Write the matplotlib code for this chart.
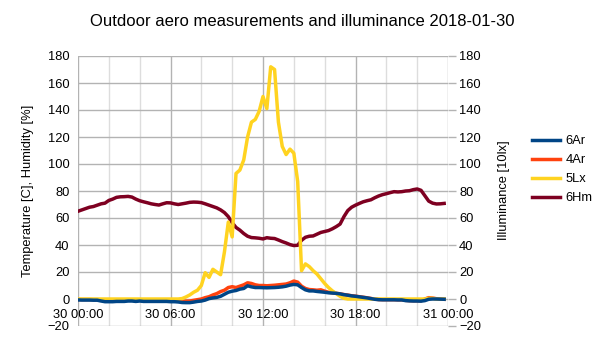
import numpy as np
import matplotlib
matplotlib.use("Agg")
import matplotlib.pyplot as plt
from matplotlib.ticker import MultipleLocator, FixedLocator

plt.rcParams["font.family"] = ["Liberation Sans", "DejaVu Sans"]

# Sample times in hours since 2018-01-30 00:00, one sample every 15 minutes
hours = np.arange(96) * 0.25

# 6Ar: outdoor temperature [C]
temp_6ar = [
    -0.7, -0.8, -0.8, -0.8, -0.9, -0.9, -1.5, -2.0, -2.0, -2.0, -1.8, -1.8,
    -1.8, -1.5, -1.5, -1.8, -1.5, -1.8, -1.8, -1.8, -1.8, -1.8, -1.8, -1.8,
    -2.0, -2.0, -2.2, -2.6, -2.7, -2.7, -2.3, -1.8, -1.5, -0.8, 0.3, 0.8,
    1.2, 2.0, 3.5, 5.0, 5.8, 6.3, 7.3, 7.8, 9.8, 9.0, 8.5, 8.5,
    8.4, 8.3, 8.4, 8.5, 8.7, 9.0, 9.5, 10.3, 10.8, 10.5, 8.5, 6.8,
    6.0, 6.0, 5.6, 5.3, 5.0, 4.6, 4.4, 4.2, 3.8, 3.2, 2.8, 2.3,
    2.0, 1.6, 1.2, 0.8, 0.3, -0.2, -0.5, -0.6, -0.6, -0.6, -0.6, -0.7,
    -0.7, -1.2, -1.4, -1.5, -1.5, -1.6, -1.2, -0.2, 0.0, 0.0, -0.1, -0.2,
]

# 4Ar: second temperature sensor [C]
temp_4ar = [
    -0.4, -0.4, -0.4, -0.4, -0.5, -0.5, -0.8, -1.2, -1.2, -1.2, -1.1, -1.1,
    -1.1, -0.9, -0.9, -1.1, -0.9, -1.1, -1.1, -1.1, -1.1, -1.1, -1.1, -1.2,
    -1.3, -1.4, -1.6, -1.8, -1.6, -1.5, -1.0, -0.5, 0.0, 1.0, 1.7, 3.0,
    4.0, 5.5, 6.5, 8.5, 9.1, 8.5, 9.5, 10.5, 12.0, 11.5, 10.5, 10.0,
    10.0, 9.8, 10.0, 10.2, 10.5, 10.8, 11.1, 12.0, 13.3, 12.5, 9.5, 7.8,
    7.0, 6.8, 6.5, 6.8, 5.8, 5.0, 4.6, 4.2, 3.8, 3.3, 2.9, 2.4,
    2.1, 1.7, 1.3, 0.9, 0.4, -0.1, -0.4, -0.5, -0.5, -0.5, -0.5, -0.6,
    -0.6, -1.0, -1.2, -1.3, -1.3, -1.3, 0.0, 1.0, 0.7, 0.2, 0.0, -0.2,
]

# 5Lx: illuminance [10 lx]
illum_5lx = [
    0, 0, 0, 0, 0, 0, 0, 0, 0, 0, 0, 0,
    0, 0, 0, 0, 0, 0, 0, 0, 0, 0, 0, 0,
    0, 0, 0, 0.3, 1.5, 3.0, 5.0, 6.5, 10.0, 19.5, 16.0, 22.0,
    20.0, 18.0, 35.0, 57.0, 46.0, 93.0, 95.5, 103.0, 120.0, 131.0, 133.0, 139.0,
    150.0, 141.0, 172.0, 170.0, 131.0, 113.0, 107.0, 111.0, 108.0, 87.0, 21.0, 26.0,
    24.0, 21.0, 18.5, 15.0, 11.5, 8.5, 6.0, 4.0, 2.0, 0.5, 0, 0,
    0, 0, 0, 0, 0, 0, 0, 0, 0, 0, 0, 0,
    0, 0, 0, 0, 0, 0, 0, 0.5, 0.5, 0, 0, 0,
]

# 6Hm: relative humidity [%]
humid_6hm = [
    65.0, 66.0, 67.0, 68.0, 68.5, 69.5, 70.5, 71.0, 73.0, 74.0, 75.3, 75.7,
    75.8, 76.0, 75.5, 74.0, 72.8, 72.0, 71.3, 70.5, 70.0, 69.6, 70.5, 71.3,
    71.2, 70.5, 70.0, 70.5, 71.0, 71.6, 71.8, 71.7, 71.4, 70.5, 69.5, 68.5,
    67.5, 66.0, 64.0, 61.0, 56.5, 53.0, 51.0, 48.5, 46.5, 45.5, 45.3, 45.0,
    44.5, 45.4, 45.0, 44.8, 43.7, 42.5, 41.5, 40.3, 39.6, 39.8, 43.5, 45.7,
    46.5, 46.7, 48.0, 49.3, 50.0, 50.7, 52.0, 53.6, 55.5, 61.0, 65.5, 68.0,
    69.5, 70.8, 72.0, 72.8, 73.5, 75.0, 76.3, 77.3, 78.0, 78.8, 79.5, 79.3,
    79.5, 80.0, 80.2, 81.0, 81.5, 80.5, 76.5, 72.5, 71.0, 70.4, 70.5, 70.8,
]

x_tick_hours = [0, 6, 12, 18, 24]
x_tick_labels = ["30 00:00", "30 06:00", "30 12:00", "30 18:00", "31 00:00"]
y_ticks = np.arange(-20, 181, 20)

fig = plt.figure(figsize=(6.05, 3.40), dpi=100)
ax = fig.add_axes([78 / 605, 14 / 340, 370 / 605, 270 / 340])

lw = 2.5
ax.plot(hours, humid_6hm, color="#7e0021", lw=lw, label="6Hm", zorder=3)
ax.plot(hours, temp_4ar, color="#ff420e", lw=lw, label="4Ar", zorder=4)
ax.plot(hours, illum_5lx, color="#ffd320", lw=lw, label="5Lx", zorder=5)
ax.plot(hours, temp_6ar, color="#004586", lw=lw, label="6Ar", zorder=6)

ax.set_xlim(0, 24)
ax.set_ylim(-20, 180)
ax.set_yticks(y_ticks)
ax.xaxis.set_major_locator(FixedLocator(x_tick_hours))
ax.set_xticklabels(x_tick_labels)
ax.xaxis.set_minor_locator(MultipleLocator(2))

ax.grid(which="major", axis="both", color="#b3b3b3", lw=1.0, zorder=0)
ax.grid(which="minor", axis="x", color="#dddddd", lw=1.0, zorder=0)
ax.set_axisbelow(True)

for side in ["top", "left", "right"]:
    ax.spines[side].set_visible(False)
ax.spines["bottom"].set_position(("data", 0))
ax.spines["bottom"].set_color("none")

ax.tick_params(axis="x", which="both", length=0, pad=7, labelsize=9.3)
ax.tick_params(axis="y", length=0, pad=6, labelsize=9.3)

# Right axis with the same scale for the illuminance values
ax2 = ax.twinx()
ax2.set_ylim(ax.get_ylim())
ax2.set_yticks(y_ticks)
for side in ["top", "left", "right", "bottom"]:
    ax2.spines[side].set_visible(False)
ax2.tick_params(axis="y", length=6, width=1.0, color="#b3b3b3", pad=2, labelsize=9.3)

fig.text(0.5, 1 - 22 / 340, "Outdoor aero measurements and illuminance 2018-01-30",
         ha="center", va="center", fontsize=12)
fig.text(28 / 605, 1 - 191 / 340, "Temperature [C], Humidity [%]",
         rotation=90, ha="center", va="center", fontsize=9.3)
fig.text(504 / 605, 1 - 190 / 340, "Illuminance [10lx]",
         rotation=90, ha="center", va="center", fontsize=9.3)

handles, labels = ax.get_legend_handles_labels()
order = [3, 1, 2, 0]
leg = fig.legend([handles[i] for i in order], [labels[i] for i in order],
                 loc="upper left", bbox_to_anchor=(532 / 605, 1 - 135 / 340),
                 frameon=False, fontsize=9.3, handlelength=2.2,
                 handletextpad=0.4, labelspacing=0.55, borderpad=0,
                 borderaxespad=0)

fig.savefig("out.png", dpi=100)
